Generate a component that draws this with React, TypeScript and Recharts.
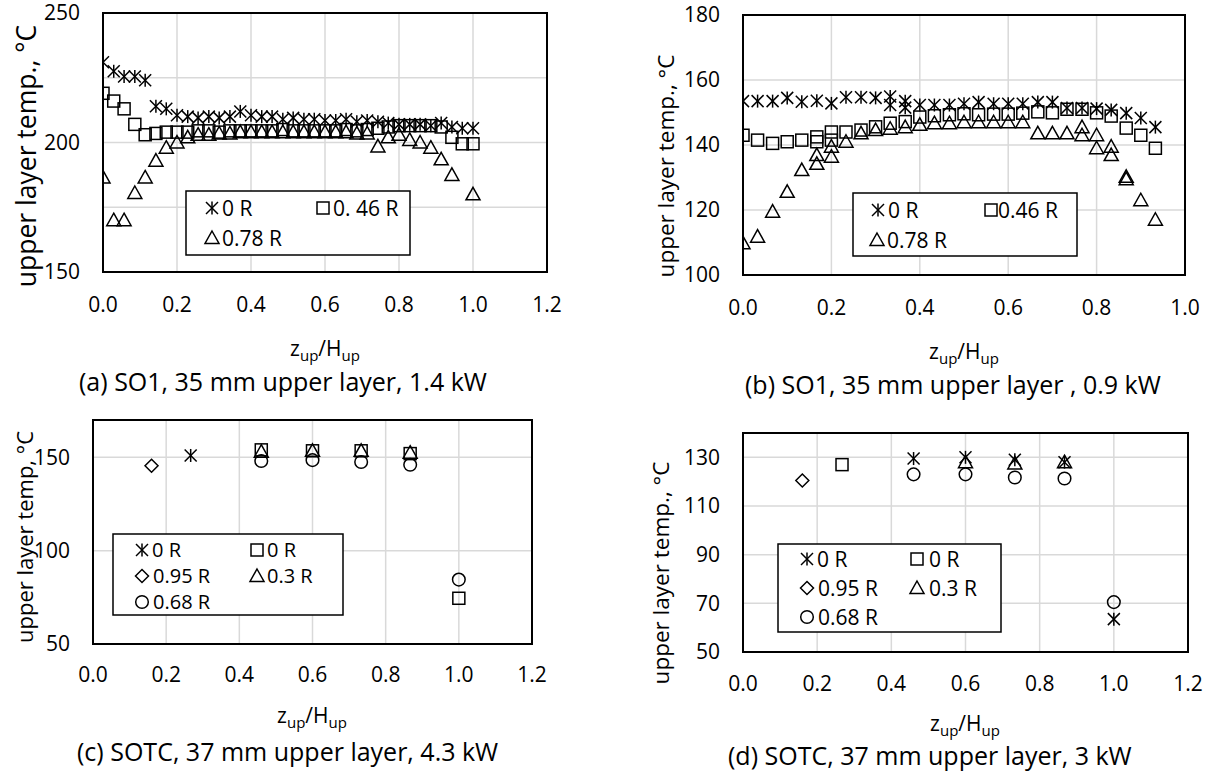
import React from 'react';
import { ScatterChart, Scatter, XAxis, YAxis, CartesianGrid, ReferenceArea } from 'recharts';

const FONT = '"Open Sans", "Noto Sans", sans-serif';

// ---------- Panel (a): SO1, 35 mm upper layer, 1.4 kW ----------
const aZ = [0, 0.029, 0.057, 0.086, 0.114, 0.143, 0.171, 0.2, 0.229, 0.257, 0.286, 0.314, 0.343, 0.371, 0.4, 0.429, 0.457, 0.486, 0.514, 0.543, 0.571, 0.6, 0.629, 0.657, 0.686, 0.714, 0.743, 0.771, 0.8, 0.829, 0.857, 0.886, 0.914, 0.943, 0.971, 1.0];
const aT0R = [231, 227.5, 225.5, 225.5, 224, 214, 213, 210.5, 210, 209.5, 210, 209.5, 210, 212, 210.5, 210, 210, 209, 209.5, 209, 209, 208.5, 208.5, 209, 208, 208.5, 208, 207.5, 207, 207, 207, 206.5, 207.5, 206, 205.5, 205.5];
const aT046R = [219, 216, 213, 207, 203, 203.5, 204, 204, 204, 204.5, 204.5, 204, 204.5, 204.5, 204.5, 204.5, 204.5, 205, 204.5, 204.5, 204.5, 204.5, 204.5, 205, 204.5, 205, 205.5, 206, 206.5, 206.5, 206.5, 206.5, 206, 202, 199.5, 199.5];
const aT078R = [186.5, 170, 170, 180.5, 186.5, 193, 198, 200, 202, 203, 203, 203.5, 203.5, 204, 204, 204, 204, 204, 204, 204, 204, 204, 204, 204, 203.5, 203.5, 198.5, 202, 203, 201, 200, 198, 193.5, 187.5, null, 180];
const aXTicks = [0, 0.2, 0.4, 0.6, 0.8, 1.0, 1.2];
const aYTicks = [150, 175, 200, 225, 250];

// ---------- Panel (b): SO1, 35 mm upper layer, 0.9 kW ----------
const bZ = [0, 0.033, 0.067, 0.1, 0.133, 0.167, 0.2, 0.233, 0.267, 0.3, 0.333, 0.367, 0.4, 0.433, 0.467, 0.5, 0.533, 0.567, 0.6, 0.633, 0.667, 0.7, 0.733, 0.767, 0.8, 0.833, 0.867, 0.9, 0.933];
const bT0R = [153.5, 153.5, 153.5, 154.5, 153.3, 153.6, 152.8, 154.7, 154.7, 154.5, 152.3, 153.5, 152.3, 152.3, 152.3, 152.7, 153.2, 152.7, 152.7, 152.7, 153.2, 153.2, 151.4, 151.4, 151.2, 150.8, 149.8, 148.3, 145.5];
const bT046R = [143, 141.5, 140.5, 141, 141.5, 142.5, 144, 144, 144.6, 145.6, 146.7, 147.2, 148.6, 149, 149.3, 149.6, 149.3, 149.5, 149.5, 149.8, 150.2, 149.9, 151, 151, 149.9, 148.9, 145.2, 143, 139];
const bT078R = [109.8, 111.8, 119.5, 125.6, 132.3, 136.9, 139.5, 141, 143.6, 144.6, 145, 145.5, 146.2, 146.7, 146.7, 147, 147, 147, 147, 147, 143.6, 143.6, 143.6, 145.5, 143, 139.5, 130.2, 123, 117];
const bExtraZ0R = [0.333, 0.367];
const bExtraT0R = [154.9, 151.5];
const bExtraZ046R = [0.167, 0.2];
const bExtraT046R = [141, 141.5];
const bExtraZ078R = [0.167, 0.2, 0.767, 0.8, 0.833, 0.867];
const bExtraT078R = [134.2, 136.4, 143, 139, 136.9, 129.5];
const bXTicks = [0, 0.2, 0.4, 0.6, 0.8, 1.0];
const bYTicks = [100, 120, 140, 160, 180];

// ---------- Panel (c): SOTC, 37 mm upper layer, 4.3 kW ----------
const cZStar0R = [0.267];
const cTStar0R = [151];
const cZSq0R = [0.46, 0.6, 0.733, 0.867, 1.0];
const cTSq0R = [154, 153.5, 153.5, 152, 74.5];
const cZ095R = [0.16];
const cT095R = [145.5];
const cZ03R = [0.46, 0.6, 0.733, 0.867];
const cT03R = [153, 153.5, 153.5, 152.5];
const cZ068R = [0.46, 0.6, 0.733, 0.867, 1.0];
const cT068R = [148, 148.5, 147.5, 146, 84.5];
const cXTicks = [0, 0.2, 0.4, 0.6, 0.8, 1.0, 1.2];
const cYTicks = [50, 100, 150];

// ---------- Panel (d): SOTC, 37 mm upper layer, 3 kW ----------
const dZStar0R = [0.46, 0.6, 0.733, 0.867, 1.0];
const dTStar0R = [129.5, 130, 129, 128, 63.5];
const dZSq0R = [0.267];
const dTSq0R = [127];
const dZ095R = [0.16];
const dT095R = [120.5];
const dZ03R = [0.6, 0.733, 0.867];
const dT03R = [128, 127.5, 128];
const dZ068R = [0.46, 0.6, 0.733, 0.867, 1.0];
const dT068R = [123, 123, 121.7, 121.3, 70.5];
const dXTicks = [0, 0.2, 0.4, 0.6, 0.8, 1.0, 1.2];
const dYTicks = [50, 70, 90, 110, 130];

type Pt = { x: number; y: number };
const pts = (xs: number[], ys: (number | null)[]): Pt[] =>
  xs.map((x, i) => ({ x, y: ys[i] as number })).filter((p) => p.y !== null && p.y !== undefined);

type Kind = 'star' | 'square' | 'triangle' | 'diamond' | 'circle';

function Marker({ kind, cx, cy }: { kind: Kind; cx: number; cy: number }) {
  const st = { stroke: '#000', strokeWidth: 1.5, fill: 'none' };
  const s = 6;
  if (cx == null || cy == null) return null;
  switch (kind) {
    case 'star':
      return (
        <g {...st}>
          <line x1={cx - s} y1={cy - s} x2={cx + s} y2={cy + s} />
          <line x1={cx - s} y1={cy + s} x2={cx + s} y2={cy - s} />
          <line x1={cx} y1={cy - s - 0.5} x2={cx} y2={cy + s + 0.5} />
        </g>
      );
    case 'square':
      return <rect x={cx - s} y={cy - s} width={2 * s} height={2 * s} {...st} />;
    case 'triangle':
      return <polygon points={`${cx},${cy - 7} ${cx + 7},${cy + 5.5} ${cx - 7},${cy + 5.5}`} {...st} />;
    case 'diamond':
      return <polygon points={`${cx},${cy - 6.5} ${cx + 6.5},${cy} ${cx},${cy + 6.5} ${cx - 6.5},${cy}`} {...st} />;
    case 'circle':
      return <circle cx={cx} cy={cy} r={6.3} {...st} />;
  }
  return null;
}

const shapeOf = (kind: Kind) => (p: any) => <Marker kind={kind} cx={p.cx} cy={p.cy} />;

const tickStyle = { fill: '#000', fontSize: 21, fontFamily: FONT };

type SeriesDef = { kind: Kind; data: Pt[] };

function Panel(props: {
  left: number; top: number; width: number; height: number;
  margin: { top: number; right: number; bottom: number; left: number };
  yAxisWidth: number; xTickMargin: number;
  xDomain: [number, number]; yDomain: [number, number];
  xTicks: number[]; yTicks: number[];
  yFmt?: (v: number) => string;
  series: SeriesDef[];
}) {
  const { left, top, width, height, margin, yAxisWidth, xTickMargin, xDomain, yDomain, xTicks, yTicks, yFmt, series } = props;
  return (
    <div style={{ position: 'absolute', left, top }}>
      <ScatterChart width={width} height={height} margin={margin}>
        <CartesianGrid stroke="#d9d9d9" strokeWidth={1.5} />
        <XAxis
          type="number" dataKey="x" domain={xDomain} ticks={xTicks} interval={0}
          tickFormatter={(v: number) => v.toFixed(1)} axisLine={false} tickLine={false}
          tick={tickStyle} tickMargin={xTickMargin} height={30} allowDataOverflow
        />
        <YAxis
          type="number" dataKey="y" domain={yDomain} ticks={yTicks} interval={0}
          tickFormatter={yFmt ? yFmt : (v: number) => String(v)} axisLine={false} tickLine={false}
          tick={tickStyle} tickMargin={17} width={yAxisWidth} allowDataOverflow
        />
        <ReferenceArea x1={xDomain[0]} x2={xDomain[1]} y1={yDomain[0]} y2={yDomain[1]}
          fill="none" fillOpacity={0} stroke="#000" strokeWidth={2} ifOverflow="visible" />
        {series.map((s, i) => (
          <Scatter key={i} data={s.data} shape={shapeOf(s.kind)} isAnimationActive={false} />
        ))}
      </ScatterChart>
    </div>
  );
}

function ZLabel({ x, y }: { x: number; y: number }) {
  return (
    <text x={x} y={y} textAnchor="middle" fontFamily={FONT} fontSize={21} fill="#000">
      z<tspan fontSize={15} dy={5}>up</tspan>
      <tspan dy={-5}>/H</tspan>
      <tspan fontSize={15} dy={5}>up</tspan>
    </text>
  );
}

function YLabel({ x, y, text, size }: { x: number; y: number; text: string; size: number }) {
  return (
    <text x={x} y={y} textAnchor="middle" dominantBaseline="central" fontFamily={FONT}
      fontSize={size} fill="#000" transform={`rotate(-90 ${x} ${y})`}>
      {text}
    </text>
  );
}

type LegItem = { kind: Kind; label: string; mx: number; tx: number; y: number };

function LegendBox({ x, y, w, h, items, fs }: { x: number; y: number; w: number; h: number; items: LegItem[]; fs: number }) {
  return (
    <g>
      <rect x={x} y={y} width={w} height={h} fill="#fff" stroke="#000" strokeWidth={1.5} />
      {items.map((it, i) => (
        <g key={i}>
          <Marker kind={it.kind} cx={it.mx} cy={it.y} />
          <text x={it.tx} y={it.y + 0.36 * fs} fontFamily={FONT} fontSize={fs} fill="#000">{it.label}</text>
        </g>
      ))}
    </g>
  );
}

export default function App() {
  const aSeries: SeriesDef[] = [
    { kind: 'star', data: pts(aZ, aT0R) },
    { kind: 'square', data: pts(aZ, aT046R) },
    { kind: 'triangle', data: pts(aZ, aT078R) },
  ];
  const bSeries: SeriesDef[] = [
    { kind: 'star', data: [...pts(bZ, bT0R), ...pts(bExtraZ0R, bExtraT0R)] },
    { kind: 'square', data: [...pts(bZ, bT046R), ...pts(bExtraZ046R, bExtraT046R)] },
    { kind: 'triangle', data: [...pts(bZ, bT078R), ...pts(bExtraZ078R, bExtraT078R)] },
  ];
  const cSeries: SeriesDef[] = [
    { kind: 'star', data: pts(cZStar0R, cTStar0R) },
    { kind: 'square', data: pts(cZSq0R, cTSq0R) },
    { kind: 'diamond', data: pts(cZ095R, cT095R) },
    { kind: 'triangle', data: pts(cZ03R, cT03R) },
    { kind: 'circle', data: pts(cZ068R, cT068R) },
  ];
  const dSeries: SeriesDef[] = [
    { kind: 'star', data: pts(dZStar0R, dTStar0R) },
    { kind: 'square', data: pts(dZSq0R, dTSq0R) },
    { kind: 'diamond', data: pts(dZ095R, dT095R) },
    { kind: 'triangle', data: pts(dZ03R, dT03R) },
    { kind: 'circle', data: pts(dZ068R, dT068R) },
  ];

  return (
    <div style={{ position: 'absolute', left: 0, top: 0, width: 1206, height: 771, background: '#fff', overflow: 'hidden' }}>
      <Panel left={0} top={0} width={600} height={400}
        margin={{ top: 13, right: 53, bottom: 98, left: 0 }} yAxisWidth={103} xTickMargin={19}
        xDomain={[0, 1.2]} yDomain={[150, 250]} xTicks={aXTicks} yTicks={aYTicks}
        yFmt={(v) => (v % 50 === 0 ? String(v) : '')} series={aSeries} />
      <Panel left={600} top={0} width={606} height={400}
        margin={{ top: 15, right: 21, bottom: 95, left: 0 }} yAxisWidth={143} xTickMargin={19}
        xDomain={[0, 1.0]} yDomain={[100, 180]} xTicks={bXTicks} yTicks={bYTicks} series={bSeries} />
      <Panel left={0} top={400} width={600} height={371}
        margin={{ top: 20, right: 68, bottom: 97, left: 0 }} yAxisWidth={93} xTickMargin={17}
        xDomain={[0, 1.2]} yDomain={[50, 170]} xTicks={cXTicks} yTicks={cYTicks} series={cSeries} />
      <Panel left={600} top={400} width={606} height={371}
        margin={{ top: 33, right: 18, bottom: 89, left: 0 }} yAxisWidth={143} xTickMargin={18}
        xDomain={[0, 1.2]} yDomain={[50, 140]} xTicks={dXTicks} yTicks={dYTicks} series={dSeries} />

      <svg width={1206} height={771} style={{ position: 'absolute', left: 0, top: 0, pointerEvents: 'none' }}>
        {/* axis titles */}
        <YLabel x={26} y={156} text="upper layer temp., °C" size={26.5} />
        <YLabel x={665} y={166} text="upper layer temp., °C" size={22.5} />
        <YLabel x={24} y={537} text="upper layer temp, °C" size={22} />
        <YLabel x={660} y={573} text="upper layer temp., °C" size={22.5} />

        <ZLabel x={325} y={356} />
        <ZLabel x={964} y={359} />
        <ZLabel x={312} y={723} />
        <ZLabel x={965} y={731} />

        {/* captions */}
        <text x={79} y={391} fontFamily={FONT} fontSize={25} fill="#000">(a) SO1, 35 mm upper layer, 1.4 kW</text>
        <text x={745} y={394} fontFamily={FONT} fontSize={25} fill="#000">(b) SO1, 35 mm upper layer , 0.9 kW</text>
        <text x={77} y={761} fontFamily={FONT} fontSize={25} fill="#000">(c) SOTC, 37 mm upper layer, 4.3 kW</text>
        <text x={728} y={765} fontFamily={FONT} fontSize={25} fill="#000">(d) SOTC, 37 mm upper layer, 3 kW</text>

        {/* legends */}
        <LegendBox x={186} y={191} w={224} h={64} fs={21} items={[
          { kind: 'star', label: '0 R', mx: 212, tx: 222, y: 208 },
          { kind: 'square', label: '0. 46 R', mx: 323, tx: 333, y: 208 },
          { kind: 'triangle', label: '0.78 R', mx: 212, tx: 222, y: 238 },
        ]} />
        <LegendBox x={853} y={193} w={224} h={63} fs={21} items={[
          { kind: 'star', label: '0 R', mx: 878, tx: 888, y: 210 },
          { kind: 'square', label: '0.46 R', mx: 991, tx: 998, y: 210 },
          { kind: 'triangle', label: '0.78 R', mx: 877, tx: 887, y: 240 },
        ]} />
        <LegendBox x={113} y={534} w={230} h={81} fs={20} items={[
          { kind: 'star', label: '0 R', mx: 142, tx: 152, y: 550 },
          { kind: 'square', label: '0 R', mx: 257, tx: 267, y: 550 },
          { kind: 'diamond', label: '0.95 R', mx: 142, tx: 153, y: 576 },
          { kind: 'triangle', label: '0.3 R', mx: 257, tx: 267, y: 576 },
          { kind: 'circle', label: '0.68 R', mx: 142, tx: 153, y: 602 },
        ]} />
        <LegendBox x={778} y={544} w={223} h={88} fs={21} items={[
          { kind: 'star', label: '0 R', mx: 807, tx: 817, y: 559 },
          { kind: 'square', label: '0 R', mx: 917, tx: 929, y: 559 },
          { kind: 'diamond', label: '0.95 R', mx: 807, tx: 818, y: 588 },
          { kind: 'triangle', label: '0.3 R', mx: 917, tx: 929, y: 588 },
          { kind: 'circle', label: '0.68 R', mx: 807, tx: 818, y: 617 },
        ]} />
      </svg>
    </div>
  );
}
